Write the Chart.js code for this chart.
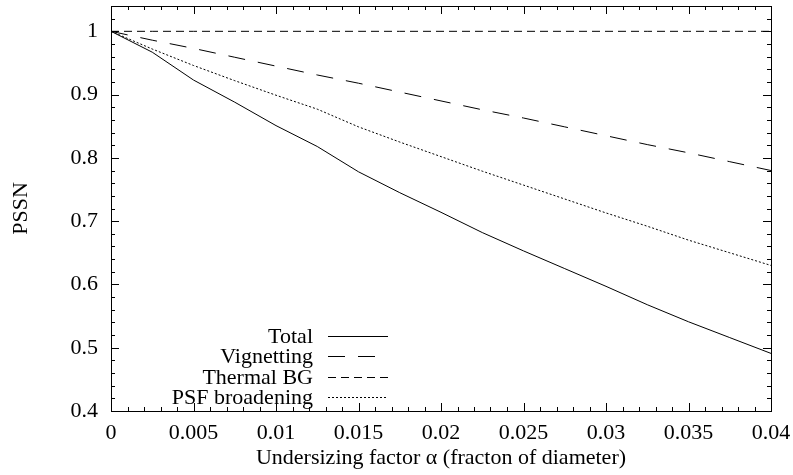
<!DOCTYPE html>
<html>
<head>
<meta charset="utf-8">
<script src="https://cdn.jsdelivr.net/npm/chart.js@4"></script>
<style>
  html, body { margin: 0; padding: 0; background: #fff; }
  #wrap { width: 793px; height: 475px; }
</style>
</head>
<body>
<div id="wrap"><canvas id="c" width="793" height="475"></canvas></div>
<script>
// undersizing factor alpha (fraction of diameter)
const alphaValues = [0, 0.0025, 0.005, 0.0075, 0.01, 0.0125, 0.015, 0.0175, 0.02,
  0.0225, 0.025, 0.0275, 0.03, 0.0325, 0.035, 0.0375, 0.04];

const totalPssn = [1, 0.967, 0.923, 0.888, 0.851, 0.818, 0.778, 0.745, 0.714,
  0.682, 0.653, 0.625, 0.597, 0.568, 0.541, 0.516, 0.491];
const vignettingPssn = [1, 0.986, 0.973, 0.959, 0.945, 0.931, 0.918, 0.904, 0.890,
  0.876, 0.863, 0.849, 0.835, 0.821, 0.808, 0.794, 0.780];
const thermalPssn = [1, 1, 1, 1, 1, 1, 1, 1, 1, 1, 1, 1, 1, 1, 1, 1, 1];
const psfPssn = [1, 0.972, 0.946, 0.922, 0.899, 0.877, 0.849, 0.825, 0.802,
  0.779, 0.757, 0.735, 0.713, 0.692, 0.670, 0.650, 0.630];

const seriesNames = ["Total", "Vignetting", "Thermal BG", "PSF broadening"];

const FONT = '"Liberation Serif", "Times New Roman", serif';
const FSIZE = 22;

function pts(ys) {
  return alphaValues.map((x, i) => ({ x, y: ys[i] }));
}

function isMajor(v, step) {
  return Math.abs(v / step - Math.round(v / step)) < 1e-6;
}

function line(label, ys, dash) {
  return {
    label, data: pts(ys), borderColor: "#000", borderWidth: 1,
    borderDash: dash, pointRadius: 0, tension: 0, fill: false,
  };
}

// gnuplot-style inward ticks on all four sides plus the frame
const frameTicks = {
  id: "frameTicks",
  afterDatasetsDraw(chart) {
    const { ctx, chartArea: a, scales: { x, y } } = chart;
    ctx.save();
    ctx.strokeStyle = "#000";
    ctx.lineWidth = 1;
    ctx.beginPath();
    x.ticks.forEach((t) => {
      const px = Math.round(x.getPixelForValue(t.value)) + 0.5;
      const len = isMajor(t.value, 0.005) ? 8 : 4;
      ctx.moveTo(px, a.bottom); ctx.lineTo(px, a.bottom - len);
      ctx.moveTo(px, a.top); ctx.lineTo(px, a.top + len);
    });
    y.ticks.forEach((t) => {
      const py = Math.round(y.getPixelForValue(t.value)) + 0.5;
      const len = isMajor(t.value, 0.1) ? 8 : 4;
      ctx.moveTo(a.left, py); ctx.lineTo(a.left + len, py);
      ctx.moveTo(a.right, py); ctx.lineTo(a.right - len, py);
    });
    ctx.stroke();
    ctx.strokeRect(Math.round(a.left) + 0.5, Math.round(a.top) + 0.5,
      Math.round(a.right - a.left), Math.round(a.bottom - a.top));
    ctx.restore();
  },
};

// key in the lower left: label right-aligned, line sample to its right
const keyBox = {
  id: "keyBox",
  afterDatasetsDraw(chart) {
    const { ctx, chartArea: a } = chart;
    const textRight = a.left + 202;
    const x0 = a.left + 217, x1 = a.left + 277;
    const firstRow = a.bottom - 75, rowH = 20.3;
    ctx.save();
    ctx.font = `${FSIZE}px ${FONT}`;
    ctx.textAlign = "right";
    ctx.textBaseline = "middle";
    ctx.fillStyle = "#000";
    chart.data.datasets.forEach((ds, i) => {
      const yy = Math.round(firstRow + i * rowH) + 0.5;
      ctx.fillText(ds.label, textRight, yy + 1);
      ctx.setLineDash(ds.borderDash || []);
      ctx.strokeStyle = "#000";
      ctx.lineWidth = 1;
      ctx.beginPath();
      ctx.moveTo(x0, yy); ctx.lineTo(x1, yy);
      ctx.stroke();
    });
    ctx.restore();
  },
};

new Chart(document.getElementById("c"), {
  type: "line",
  data: {
    datasets: [
      line(seriesNames[0], totalPssn, []),
      line(seriesNames[1], vignettingPssn, [17, 13]),
      line(seriesNames[2], thermalPssn, [8, 5]),
      line(seriesNames[3], psfPssn, [2, 2]),
    ],
  },
  options: {
    responsive: false,
    animation: false,
    devicePixelRatio: 1,
    layout: { padding: { left: 0, right: 22, top: 6, bottom: 0 } },
    plugins: { legend: { display: false }, tooltip: { enabled: false } },
    scales: {
      x: {
        type: "linear", min: 0, max: 0.04,
        grid: { display: false, drawTicks: false },
        border: { display: false },
        afterFit: (s) => { s.height = 64; s.paddingLeft = 0; s.paddingRight = 0; },
        ticks: {
          stepSize: 0.001, maxTicksLimit: 100, autoSkip: false, maxRotation: 0,
          padding: 9, color: "#000", font: { family: FONT, size: FSIZE },
          callback: (v) => isMajor(v, 0.005) ? String(Math.round(v * 1000) / 1000) : "",
        },
        title: {
          display: true, text: "Undersizing factor α (fracton of diameter)",
          color: "#000", font: { family: FONT, size: FSIZE }, padding: { top: 0, bottom: 4 },
        },
      },
      y: {
        type: "linear", min: 0.4, max: 1.04,
        grid: { display: false, drawTicks: false },
        border: { display: false },
        afterFit: (s) => { s.width = 111; s.paddingTop = 0; s.paddingBottom = 0; },
        ticks: {
          stepSize: 0.02, maxTicksLimit: 100, autoSkip: false,
          padding: 13, color: "#000", font: { family: FONT, size: FSIZE },
          callback: (v) => isMajor(v, 0.1) ? String(Math.round(v * 10) / 10) : "",
        },
        title: {
          display: true, text: "PSSN",
          color: "#000", font: { family: FONT, size: FSIZE }, padding: { top: 8, bottom: 0 },
        },
      },
    },
  },
  plugins: [frameTicks, keyBox],
});
</script>
</body>
</html>
